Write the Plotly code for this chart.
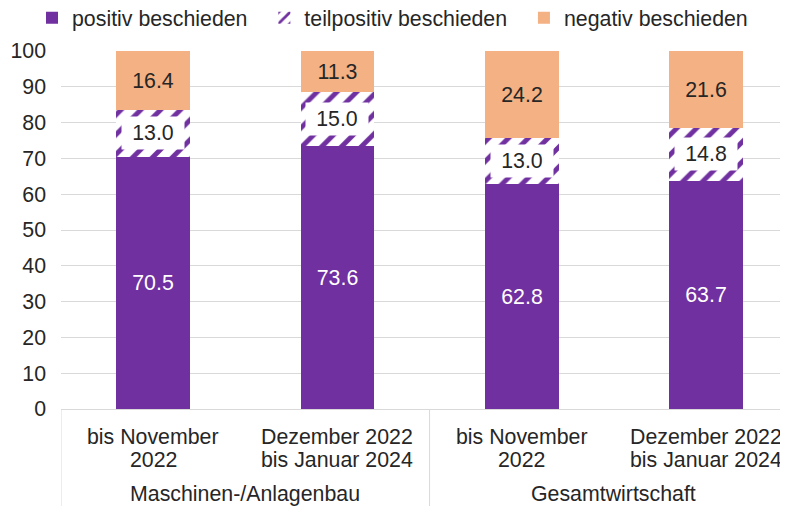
import plotly.graph_objects as go

categories = ["bis November<br>2022", "Dezember 2022<br>bis Januar 2024",
              "bis November<br>2022", "Dezember 2022<br>bis Januar 2024"]
groups = ["Maschinen-/Anlagenbau", "Gesamtwirtschaft"]
series_names = ["positiv beschieden", "teilpositiv beschieden", "negativ beschieden"]
positiv = [70.5, 73.6, 62.8, 63.7]
teilpositiv = [13.0, 15.0, 13.0, 14.8]
negativ = [16.4, 11.3, 24.2, 21.6]
y_ticks = list(range(0, 101, 10))

PURPLE = "#7030A0"
ORANGE = "#F4B183"
TXT = "#262626"
FONT = "Liberation Sans, Arial, sans-serif"
FS = 21.33
PAD = "\u00a0\u00a0"
xs = list(range(len(categories)))

fig = go.Figure()
fig.add_trace(go.Bar(
    x=xs, y=positiv, name=series_names[0] + PAD, width=0.4,
    marker=dict(color=PURPLE, line=dict(width=0)),
    texttemplate="%{y:.1f}", textposition="inside", insidetextanchor="middle",
    textfont=dict(color="white", size=FS, family=FONT), textangle=0,
))
fig.add_trace(go.Bar(
    x=xs, y=teilpositiv, name=series_names[1] + PAD, width=0.4,
    marker=dict(color="white", line=dict(width=0),
                pattern=dict(shape="/", fgcolor=PURPLE, bgcolor="white",
                             size=14, solidity=0.35, fillmode="replace")),
))
fig.add_trace(go.Bar(
    x=xs, y=negativ, name=series_names[2], width=0.4,
    marker=dict(color=ORANGE, line=dict(width=0)),
    texttemplate="%{y:.1f}", textposition="inside", insidetextanchor="middle",
    textfont=dict(color=TXT, size=FS, family=FONT), textangle=0,
))

# labels for the hatched segments (white box behind text)
for i, (p, t) in enumerate(zip(positiv, teilpositiv)):
    fig.add_annotation(x=i, y=p + t / 2, xref="x", yref="y",
                       text=f"{t:.1f}", showarrow=False,
                       font=dict(size=FS, color=TXT, family=FONT),
                       bgcolor="white", width=60, height=30)

# category labels (two lines each)
for i, lab in enumerate(categories):
    for k, line in enumerate(lab.split("<br>")):
        fig.add_annotation(x=i, y=0, xref="x", yref="paper",
                           yshift=-28 - 23 * k, text=line, showarrow=False,
                           yanchor="middle",
                           font=dict(size=FS, color=TXT, family=FONT))

# group labels
for g, name in enumerate(groups):
    fig.add_annotation(x=2 * g + 0.5, y=0, xref="x", yref="paper",
                       yshift=-85, text=name, showarrow=False,
                       yanchor="middle",
                       font=dict(size=FS, color=TXT, family=FONT))

# separators
for xv in [-0.5, 1.5, 3.5]:
    fig.add_shape(type="line", x0=xv, x1=xv, y0=0, y1=-0.4,
                  xref="x", yref="paper",
                  line=dict(color="#D9D9D9", width=1))

fig.update_layout(
    barmode="stack",
    width=788, height=506,
    margin=dict(l=53, r=8, t=43, b=105, autoexpand=False),
    paper_bgcolor="white", plot_bgcolor="white",
    font=dict(family=FONT, size=FS, color=TXT),
    bargap=0,
    legend=dict(orientation="h", xref="container", x=24 / 788, xanchor="left",
                yref="container", y=1 - 10 / 506, yanchor="middle",
                font=dict(size=FS, color=TXT),
                itemwidth=30, traceorder="normal"),
    showlegend=True,
)
fig.update_xaxes(range=[-0.5, 3.445], tickvals=xs, showticklabels=False,
                 showgrid=False, showline=True, linecolor="#D9D9D9",
                 ticks="", zeroline=False, automargin=False)
fig.update_yaxes(range=[0, 100], tickvals=y_ticks, showgrid=True,
                 gridcolor="#D9D9D9", zeroline=False, showline=False,
                 ticks="", ticklabelstandoff=14, automargin=False,
                 tickfont=dict(size=FS, color=TXT, family=FONT))

fig.write_html("out.html")
